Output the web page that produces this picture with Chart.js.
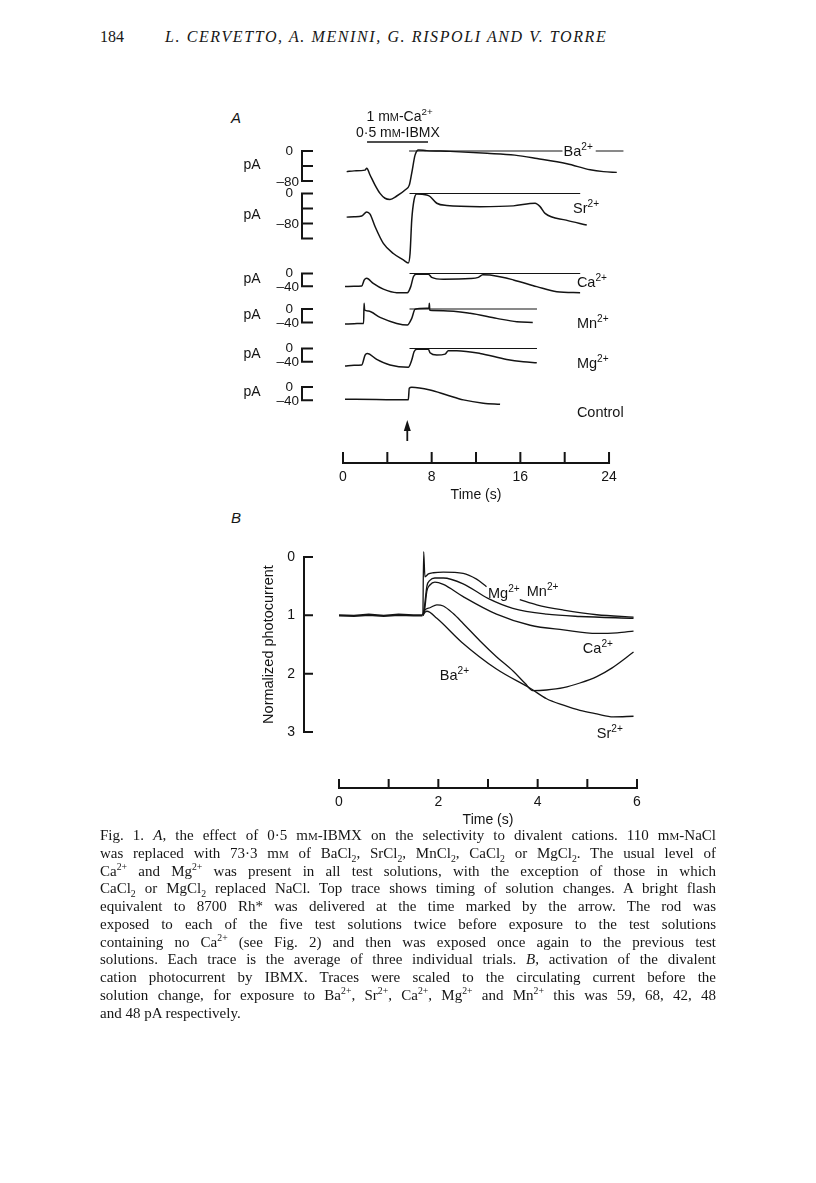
<!DOCTYPE html>
<html>
<head>
<meta charset="utf-8">
<title>Fig. 1 - divalent cation photocurrent</title>
<script src="https://cdn.jsdelivr.net/npm/chart.js@4.4.1/dist/chart.umd.min.js"></script>
<style>
  html, body { margin: 0; padding: 0; background: #fff; }
  body { position: relative; width: 816px; height: 1183px; overflow: hidden; color: #161616;
         font-family: "Liberation Serif", "DejaVu Serif", serif; }
  .abs { position: absolute; white-space: nowrap; }
  #pageNo { left: 100px; top: 28px; font-size: 16px; line-height: 18px; }
  #authors { left: 165px; top: 28px; font-size: 16px; line-height: 18px; font-style: italic; letter-spacing: 1.6px; }
  .letter { font-family: "Liberation Sans", Arial, sans-serif; font-style: italic; font-size: 15px; line-height: 18px; }
  #chartA { position: absolute; left: 200px; top: 100px; }
  #chartB { position: absolute; left: 220px; top: 530px; }
  #caption { position: absolute; left: 100px; top: 827px; width: 616px; font-size: 15px; line-height: 17.75px; }
  #caption div { text-align: justify; text-align-last: justify; white-space: nowrap; }
  #caption div.last { text-align-last: left; }
  .sc { font-variant: small-caps; }
  sup, sub { font-size: 65%; line-height: 0; }
</style>
</head>
<body>

<div id="pageNo" class="abs">184</div>
<div id="authors" class="abs">L. CERVETTO, A. MENINI, G. RISPOLI AND V. TORRE</div>
<div class="abs letter" style="left:231px; top:109px;">A</div>
<div class="abs letter" style="left:231px; top:509px;">B</div>

<canvas id="chartA" width="460" height="420"></canvas>
<canvas id="chartB" width="440" height="300"></canvas>

<div id="caption">
  <div>Fig. 1. <i>A</i>, the effect of 0·5 m<span class="sc">m</span>-IBMX on the selectivity to divalent cations. 110 m<span class="sc">m</span>-NaCl</div>
  <div>was replaced with 73·3 m<span class="sc">m</span> of BaCl<sub>2</sub>, SrCl<sub>2</sub>, MnCl<sub>2</sub>, CaCl<sub>2</sub> or MgCl<sub>2</sub>. The usual level of</div>
  <div>Ca<sup>2+</sup> and Mg<sup>2+</sup> was present in all test solutions, with the exception of those in which</div>
  <div>CaCl<sub>2</sub> or MgCl<sub>2</sub> replaced NaCl. Top trace shows timing of solution changes. A bright flash</div>
  <div>equivalent to 8700 Rh* was delivered at the time marked by the arrow. The rod was</div>
  <div>exposed to each of the five test solutions twice before exposure to the test solutions</div>
  <div>containing no Ca<sup>2+</sup> (see Fig. 2) and then was exposed once again to the previous test</div>
  <div>solutions. Each trace is the average of three individual trials. <i>B</i>, activation of the divalent</div>
  <div>cation photocurrent by IBMX. Traces were scaled to the circulating current before the</div>
  <div>solution change, for exposure to Ba<sup>2+</sup>, Sr<sup>2+</sup>, Ca<sup>2+</sup>, Mg<sup>2+</sup> and Mn<sup>2+</sup> this was 59, 68, 42, 48</div>
  <div class="last">and 48 pA respectively.</div>
</div>

<script>
// ---- panel A data: time (s), current (pA) ----
const aIons = ["Ba", "Sr", "Ca", "Mn", "Mg", "Control"];
const aTimeTicks = [0, 4, 8, 12, 16, 20, 24];
const aTimeLabels = [0, 8, 16, 24];
const aFlashTime = 5.8;
const aSolutionSpan = [2.17, 7.67];

const aBa = [[0.33,-55],[1.0,-53],[1.99,-51],[2.14,-46],[2.44,-64],[2.89,-91],[3.34,-113],[3.79,-126],[4.24,-129],
  [4.85,-120],[5.60,-104],[5.98,-91],[6.20,-59],[6.50,-11],[6.80,3],[7.55,1],[9.66,-1],[13.0,-6],[15.5,-11],
  [17.5,-20],[20.2,-34],[22.3,-50],[23.5,-55],[24.7,-57]];
const aSr = [[0.33,-63],[1.0,-62],[1.69,-60],[2.14,-49],[2.44,-55],[2.89,-88],[3.64,-133],[4.54,-160],[5.44,-177],
  [5.89,-185],[6.05,-160],[6.20,-71],[6.41,-17],[6.65,-1],[7.55,-4],[7.85,-8],[8.46,-26],[9.36,-32],[12.36,-35],
  [15.37,-33],[17.33,-26],[17.78,-35],[18.23,-53],[20.13,-71],[21.99,-84]];
const aCa = [[0.18,-41],[1.0,-40],[1.69,-39],[1.92,-20],[2.14,-15],[2.73,-31],[3.64,-49],[4.85,-60],[5.80,-60],
  [6.11,-41],[6.35,-10],[6.59,-2],[7.70,-2],[8.0,-12],[9.05,-18],[11.46,-16],[12.21,-12],[12.61,-4],[13.27,-5],
  [15.37,-20],[17.48,-41],[19.29,-57],[21.39,-60]];
const aMn = [[0.18,-45],[1.0,-44],[1.78,-43],[1.86,-43],[1.90,17],[1.95,-3],[2.28,-6],[3.34,-25],[4.85,-43],
  [5.80,-48],[6.20,-28],[6.50,-1],[7.55,2],[7.75,2],[7.79,17],[7.83,-4],[9.05,-5],[11.46,-13],[13.87,-28],
  [15.68,-38],[17.12,-40]];
const aMg = [[0.18,-53],[1.0,-51],[1.69,-50],[1.99,-20],[2.19,-15],[3.04,-33],[4.24,-50],[5.89,-57],[6.20,-35],
  [6.41,-10],[6.65,-2],[7.70,-2],[7.85,-13],[8.46,-20],[9.21,-17],[9.5,-7],[10.26,-7],[12.36,-15],[14.77,-33],
  [16.27,-40],[17.48,-43]];
const aControl = [[0.18,-37],[3.0,-38],[5.75,-39],[5.89,-39],[5.98,-4],[6.20,-1],[7.85,-9],[9.36,-24],[10.86,-39],
  [12.66,-49],[14.17,-52]];
const aTraces = [aBa, aSr, aCa, aMn, aMg, aControl];

// zero-current reference lines (time spans), scale bars (pA)
const aRefSpans = [[[5.96,19.8],[22.8,25.3]], [[6.0,21.4]], [[6.0,21.4]], [[6.0,17.5]], [[6.0,17.5]], []];
const aBarBottom = [-80, -120, -40, -40, -40, -40];
const aBarLabel = [-80, -80, -40, -40, -40, -40];
const aBarStep = 40;

// ---- panel B data: time (s), normalized photocurrent ----
const bTimeTicks = [0, 1, 2, 3, 4, 5, 6];
const bTimeLabels = [0, 2, 4, 6];
const bYTicks = [0, 1, 2, 3];
const bIons = ["Mn", "Mg", "Ca", "Ba", "Sr"];
const bBaseline = [[0,1.0],[0.3,1.01],[0.6,0.99],[0.9,1.01],[1.2,0.99],[1.5,1.0],[1.68,1.0]];
const bMn = [[1.69,1.0],[1.705,-0.09],[1.73,0.34],[1.80,0.29],[1.90,0.27],[2.10,0.26],[2.50,0.28],[2.77,0.38],
  [2.97,0.51],[3.3,null],[3.64,0.73],[3.98,0.82],[4.52,0.91],[5.19,0.99],[5.93,1.03]];
const bMg = [[1.69,1.0],[1.72,0.85],[1.77,0.50],[1.83,0.40],[1.93,0.36],[2.10,0.36],[2.50,0.46],[3.0,0.71],
  [3.5,0.88],[4.18,0.98],[4.85,1.02],[5.93,1.05]];
const bCa = [[1.69,1.0],[1.72,0.93],[1.77,0.58],[1.83,0.48],[1.93,0.43],[2.10,0.47],[2.50,0.68],[3.17,0.98],
  [3.85,1.17],[4.52,1.25],[5.19,1.31],[5.60,1.30],[5.93,1.27]];
const bBa = [[1.69,1.0],[1.72,0.92],[1.83,0.87],[1.97,0.82],[2.10,0.84],[2.30,0.97],[2.50,1.14],[2.84,1.44],
  [3.17,1.71],[3.51,1.96],[3.75,2.17],[3.90,2.29],[4.18,2.28],[4.52,2.24],[4.85,2.16],[5.19,2.05],[5.50,1.90],
  [5.93,1.63]];
const bSr = [[1.69,1.0],[1.73,0.95],[1.77,0.93],[1.97,1.05],[2.47,1.46],[3.17,1.92],[3.85,2.25],[4.18,2.43],
  [4.52,2.54],[4.85,2.63],[5.19,2.69],[5.52,2.74],[5.93,2.73]];
const bTraces = [bMn, bMg, bCa, bBa, bSr];

// ---- layout (not data) ----
const INK = "#141414";
const FONT = '"Liberation Sans", Arial, sans-serif';
const aRowZero = [51, 93.5, 173.5, 209, 248.5, 287];       // canvas px of each row's 0 pA
const aRowPxPerPA = [0.375, 0.375, 0.32, 0.335, 0.33, 0.33];
const aPad = { left: 143, right: 28.8, top: 40, bottom: 57 };
const aIonLabelAt = [[19.9,0],[20.75,-39],[21.1,-27],[21.1,-42],[21.1,-44],[21.1,-76]];
const bIonLabelAt = [[3.78,0.58],[3.0,0.62],[4.91,1.56],[2.03,2.02],[5.19,3.02]];

function pts(arr) { return arr.map(p => ({ x: p[0], y: p[1] })); }

function drawRuns(ctx, runs, x, y, size, align) {
  let total = 0;
  const parts = runs.map(r => {
    const s = r.sup ? size * 0.7 : r.sc ? size * 0.78 : size;
    ctx.font = s + "px " + FONT;
    const w = ctx.measureText(r.t).width;
    total += w;
    return { r, s, w };
  });
  let cx = align === "center" ? x - total / 2 : align === "right" ? x - total : x;
  ctx.textAlign = "left";
  ctx.textBaseline = "alphabetic";
  parts.forEach(p => {
    ctx.font = p.s + "px " + FONT;
    ctx.fillText(p.r.t, cx, p.r.sup ? y - size * 0.42 : y);
    cx += p.w;
  });
}
function ionRuns(ion) {
  return ion === "Control" ? [{ t: "Control" }] : [{ t: ion }, { t: "2+", sup: true }];
}

// ---- panel A ----
const aDatasets = [];
const aScales = { x: { type: "linear", min: 0, max: 26, display: false } };
const areaH = 420 - aPad.top - aPad.bottom;
aIons.forEach((ion, i) => {
  const z = aRowZero[i] - aPad.top, k = aRowPxPerPA[i];
  aScales["y" + i] = { type: "linear", display: false, max: z / k, min: -(areaH - z) / k };
  aDatasets.push({ label: ion, data: pts(aTraces[i]), yAxisID: "y" + i,
    borderColor: INK, borderWidth: 1.5, cubicInterpolationMode: "monotone" });
  aRefSpans[i].forEach(span => {
    aDatasets.push({ label: ion + " 0", data: pts([[span[0], 0], [span[1], 0]]), yAxisID: "y" + i,
      borderColor: INK, borderWidth: 1.1 });
  });
});

const panelAOverlay = {
  id: "panelAOverlay",
  afterDraw(chart) {
    const ctx = chart.ctx, ca = chart.chartArea, xs = chart.scales.x;
    ctx.save();
    ctx.fillStyle = INK;
    ctx.strokeStyle = INK;

    aIons.forEach((ion, i) => {
      const ys = chart.scales["y" + i];
      const xv = ca.left - 41;
      ctx.lineWidth = 2;
      ctx.beginPath();
      ctx.moveTo(xv, ys.getPixelForValue(0));
      ctx.lineTo(xv, ys.getPixelForValue(aBarBottom[i]));
      for (let v = 0; v >= aBarBottom[i]; v -= aBarStep) {
        const py = ys.getPixelForValue(v);
        ctx.moveTo(xv - 1, py);
        ctx.lineTo(xv + 11, py);
      }
      ctx.stroke();

      ctx.font = "13.5px " + FONT;
      ctx.textBaseline = "middle";
      ctx.textAlign = "right";
      ctx.fillText("0", xv - 9, ys.getPixelForValue(0));
      ctx.fillText("\u2013" + Math.abs(aBarLabel[i]), xv - 3, ys.getPixelForValue(aBarLabel[i]) + 1);
      ctx.font = "14px " + FONT;
      ctx.textAlign = "center";
      ctx.fillText("pA", ca.left - 91, ys.getPixelForValue(aBarBottom[i] / 2) - 1);

      const at = aIonLabelAt[i];
      drawRuns(ctx, ionRuns(ion), xs.getPixelForValue(at[0]), ys.getPixelForValue(at[1]) + 5, 14.5, "left");
    });

    // solution timing bar
    ctx.lineWidth = 1.6;
    ctx.beginPath();
    ctx.moveTo(xs.getPixelForValue(aSolutionSpan[0]), ca.top + 2);
    ctx.lineTo(xs.getPixelForValue(aSolutionSpan[1]), ca.top + 2);
    ctx.stroke();
    drawRuns(ctx, [{ t: "1 m" }, { t: "M", sc: true }, { t: "-Ca" }, { t: "2+", sup: true }],
      xs.getPixelForValue(5.1), ca.top - 19, 14, "center");
    drawRuns(ctx, [{ t: "0\u00b75 m" }, { t: "M", sc: true }, { t: "-IBMX" }],
      xs.getPixelForValue(4.95), ca.top - 3, 14, "center");

    // flash arrow
    const fx = xs.getPixelForValue(aFlashTime);
    ctx.lineWidth = 1.8;
    ctx.beginPath();
    ctx.moveTo(fx, ca.bottom - 22);
    ctx.lineTo(fx, ca.bottom - 36);
    ctx.stroke();
    ctx.beginPath();
    ctx.moveTo(fx, ca.bottom - 43);
    ctx.lineTo(fx - 3.5, ca.bottom - 32);
    ctx.lineTo(fx + 3.5, ca.bottom - 32);
    ctx.closePath();
    ctx.fill();

    // time axis, ticks pointing up
    const yAx = ca.bottom;
    ctx.lineWidth = 2;
    ctx.beginPath();
    ctx.moveTo(xs.getPixelForValue(aTimeTicks[0]), yAx);
    ctx.lineTo(xs.getPixelForValue(aTimeTicks[aTimeTicks.length - 1]), yAx);
    aTimeTicks.forEach(t => {
      const px = xs.getPixelForValue(t);
      ctx.moveTo(px, yAx + 1);
      ctx.lineTo(px, yAx - 11);
    });
    ctx.stroke();
    ctx.font = "14px " + FONT;
    ctx.textAlign = "center";
    ctx.textBaseline = "middle";
    aTimeLabels.forEach(t => ctx.fillText(String(t), xs.getPixelForValue(t), yAx + 14));
    ctx.fillText("Time (s)", xs.getPixelForValue(12), yAx + 32);
    ctx.restore();
  }
};

new Chart(document.getElementById("chartA"), {
  type: "line",
  data: { datasets: aDatasets },
  options: {
    responsive: false,
    animation: false,
    layout: { padding: aPad },
    plugins: { legend: { display: false }, tooltip: { enabled: false } },
    elements: { point: { radius: 0 } },
    scales: aScales
  },
  plugins: [panelAOverlay]
});

// ---- panel B ----
const panelBOverlay = {
  id: "panelBOverlay",
  afterDraw(chart) {
    const ctx = chart.ctx, ca = chart.chartArea, xs = chart.scales.x, ys = chart.scales.y;
    ctx.save();
    ctx.fillStyle = INK;
    ctx.strokeStyle = INK;
    ctx.lineWidth = 2;

    // y axis bracket, ticks pointing right
    const xv = ca.left - 35;
    ctx.beginPath();
    ctx.moveTo(xv, ys.getPixelForValue(bYTicks[0]));
    ctx.lineTo(xv, ys.getPixelForValue(bYTicks[bYTicks.length - 1]));
    bYTicks.forEach(v => {
      const py = ys.getPixelForValue(v);
      ctx.moveTo(xv - 1, py);
      ctx.lineTo(xv + 9, py);
    });
    ctx.stroke();
    ctx.font = "14px " + FONT;
    ctx.textAlign = "right";
    ctx.textBaseline = "middle";
    bYTicks.forEach(v => ctx.fillText(String(v), xv - 9, ys.getPixelForValue(v)));
    ctx.save();
    ctx.translate(ca.left - 70, ys.getPixelForValue(1.5));
    ctx.rotate(-Math.PI / 2);
    ctx.textAlign = "center";
    ctx.font = "14.5px " + FONT;
    ctx.fillText("Normalized photocurrent", 0, 0);
    ctx.restore();

    // time axis
    const yAx = ca.bottom + 56;
    ctx.beginPath();
    ctx.moveTo(xs.getPixelForValue(bTimeTicks[0]), yAx);
    ctx.lineTo(xs.getPixelForValue(bTimeTicks[bTimeTicks.length - 1]), yAx);
    bTimeTicks.forEach(t => {
      const px = xs.getPixelForValue(t);
      ctx.moveTo(px, yAx + 1);
      ctx.lineTo(px, yAx - 9);
    });
    ctx.stroke();
    ctx.font = "14px " + FONT;
    ctx.textAlign = "center";
    bTimeLabels.forEach(t => ctx.fillText(String(t), xs.getPixelForValue(t), yAx + 14));
    ctx.fillText("Time (s)", xs.getPixelForValue(3), yAx + 32);

    bIons.forEach((ion, i) => {
      const at = bIonLabelAt[i];
      drawRuns(ctx, ionRuns(ion), xs.getPixelForValue(at[0]), ys.getPixelForValue(at[1]) + 5, 14.5, "left");
    });
    ctx.restore();
  }
};

const bDatasets = [{ label: "baseline", data: pts(bBaseline), borderColor: INK, borderWidth: 2.4 }];
bIons.forEach((ion, i) => {
  bDatasets.push({ label: ion, data: pts(bTraces[i]), borderColor: INK, borderWidth: 1.3,
    cubicInterpolationMode: "monotone" });
});

new Chart(document.getElementById("chartB"), {
  type: "line",
  data: { datasets: bDatasets },
  options: {
    responsive: false,
    animation: false,
    layout: { padding: { left: 119, right: 23, top: 15.33, bottom: 98 } },
    plugins: { legend: { display: false }, tooltip: { enabled: false } },
    elements: { point: { radius: 0 } },
    scales: {
      x: { type: "linear", min: 0, max: 6, display: false },
      y: { type: "linear", min: -0.2, max: 3, reverse: true, display: false }
    }
  },
  plugins: [panelBOverlay]
});
</script>
</body>
</html>
